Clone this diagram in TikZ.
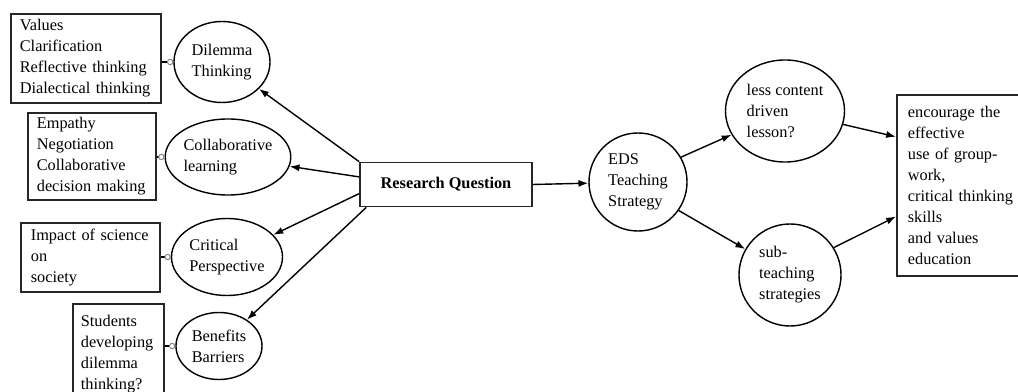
\documentclass[tikz,border=0pt]{standalone}
\usepackage{fontspec}
\setmainfont{Liberation Serif}
\usepackage{tikz}
\usetikzlibrary{positioning, shapes.geometric, arrows.meta}
\tikzset{
	textbox/.style={
			shape=rectangle,
			draw=black!85,
			line width=1.2pt,
			anchor=north west,
			align=left,
			inner ysep=0pt
		},
	bubble/.style={
			shape=ellipse,
			draw=black,
			line width=1pt,
			align=left,
			inner sep=0pt
		},
	roundnode/.style={
			shape=circle,
			draw=black,
			line width=1pt,
			align=left,
			inner sep=0pt
		},
	questionnode/.style={
			shape=rectangle,
			draw=black!85,
			line width=1.2pt,
			minimum width=4.3cm,
			minimum height=1.1cm,
			font=\fontsize{11.6}{14.9}\selectfont\bfseries
		},
	linkarrow/.style={
			line width=1pt,
			-{Latex[length=7pt,width=5pt]}
		},
	linkdot/.style={
			line width=1.2pt,
			-{Circle[open,length=4.5pt,color=gray,line width=0.7pt]}
		}
}

\begin{document}
\begin{tikzpicture}[x=0.025cm, y=-0.025cm, font=\fontsize{11.6}{14.9}\selectfont]

  \useasboundingbox (0,0) rectangle (1018,392);

  \node[textbox, inner xsep=0.225cm, text width=3.3cm, minimum height=2.225cm] (b1) at (10,13)
    {Values\\Clarification\\Reflective thinking\\Dialectical thinking};
  \node[textbox, inner xsep=0.225cm, text width=2.75cm, minimum height=2.175cm] (b2) at (27,112)
    {Empathy\\Negotiation\\Collaborative\\decision making};
  \node[textbox, inner xsep=0.25cm, text width=2.975cm, minimum height=1.725cm] (b3) at (20,222)
    {Impact of science\\on\\society};
  \node[textbox, inner xsep=0.2cm, text width=1.875cm, minimum height=2.5cm] (b4) at (72,303)
    {Students\\developing\\dilemma\\thinking?};

  \node[bubble, minimum width=2.4cm, minimum height=2.025cm] (dt) at (222,62) {Dilemma\\Thinking};
  \node[bubble, minimum width=2.95cm, minimum height=1.9cm] (cl) at (228,157) {Collaborative\\learning};
  \node[bubble, minimum width=2.775cm, minimum height=1.925cm] (cp) at (227,257) {Critical\\Perspective};
  \node[bubble, minimum width=2.15cm, minimum height=1.675cm] (bb) at (219,346) {Benefits\\Barriers};

  \node[questionnode] (rq) at (446,184.5) {Research Question};

  \node[roundnode, minimum size=2.45cm] (eds) at (638,182) {EDS\\Teaching\\Strategy};
  \node[bubble, minimum width=2.975cm, minimum height=2.55cm] (lc) at (785,111) {less content\\driven\\lesson?};
  \node[roundnode, minimum size=2.55cm] (st) at (790,275) {sub-\\teaching\\strategies};

  \node[textbox, inner xsep=0.275cm, text width=2.75cm, minimum height=4.525cm] (ob) at (896,94)
    {encourage the\\effective\\use of group-\\work,\\critical thinking\\skills\\and values\\education};

  \draw[linkdot] (b1.east |- dt.west) -- (dt.west);
  \draw[linkdot] (b2.east |- cl.west) -- (cl.west);
  \draw[linkdot] (b3.east |- cp.west) -- (cp.west);
  \draw[linkdot] (b4.east |- bb.west) -- (bb.west);

  \draw[linkarrow] (rq.north west) -- (dt);
  \draw[linkarrow] (rq.175) -- (cl);
  \draw[linkarrow] (rq.186) -- (cp);
  \draw[linkarrow] (rq.196) -- (bb);

  \draw[linkarrow] (rq.east) -- (eds);
  \draw[linkarrow] (eds.30) -- (lc);
  \draw[linkarrow] (eds.-35) -- (st);
  \draw[linkarrow] (lc.-13) -- (ob.144);
  \draw[linkarrow] (st.32) -- (ob.205);

\end{tikzpicture}
\end{document}
